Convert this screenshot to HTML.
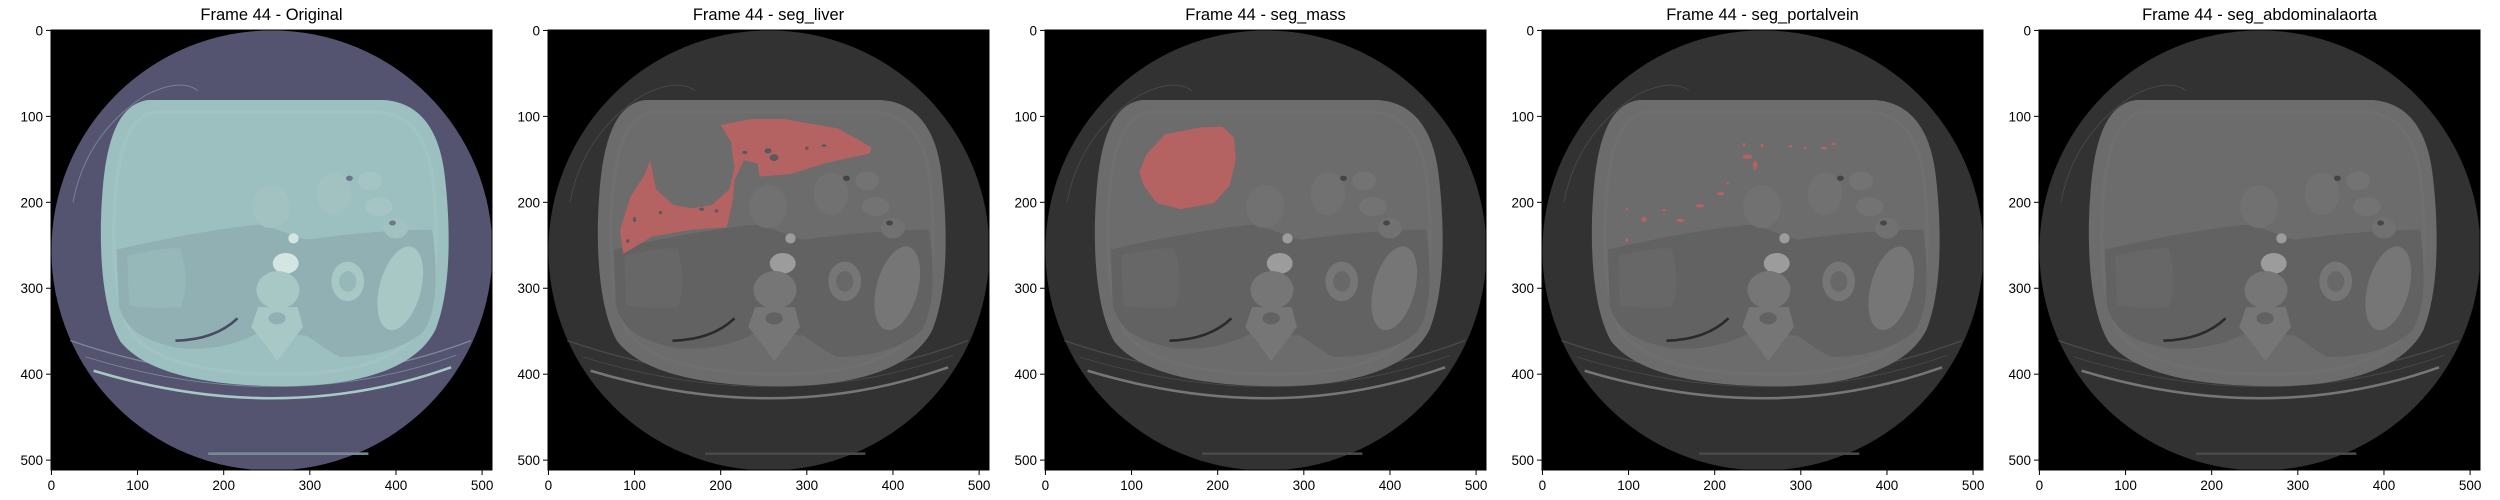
<!DOCTYPE html>
<html><head><meta charset="utf-8">
<style>
html,body{margin:0;padding:0;background:#fff;}
svg{display:block;font-family:"Liberation Sans","DejaVu Sans",sans-serif;}
</style></head>
<body>
<svg id="fig" width="2500" height="500" viewBox="0 0 2500 500" xmlns="http://www.w3.org/2000/svg"></svg>
<script>
// ---- data ----
const panelTitles = ["Frame 44 - Original","Frame 44 - seg_liver","Frame 44 - seg_mass","Frame 44 - seg_portalvein","Frame 44 - seg_abdominalaorta"];
const panelKeys = ["original","seg-liver","seg-mass","seg-portalvein","seg-abdominalaorta"];
const tickValues = [0,100,200,300,400,500];
const tickLabels = ["0","100","200","300","400","500"];
const imageSize = 512;
// segmentation masks in image (pixel) coordinates
const liverMask = [[200,110],[236,103],[274,103],[336,114],[375,136],[373,143],[319,155],[282,167],[245,170],[243,155],[227,151],[216,174],[214,198],[207,229],[166,232],[120,240],[87,260],[83,233],[95,194],[112,167],[118,151],[125,185],[145,203],[166,207],[190,203],[210,185],[216,160],[212,130]];
const liverHoles = [[228,142,3,2],[255,140,4,3],[262,148,5,4],[300,137,2,2],[320,134,3,1.5],[178,208,3,2],[195,210,2,2],[100,220,2,3],[92,245,2,2],[130,212,2,2]];
const massMask = [[139,122],[180,114],[205,113],[218,125],[220,150],[213,180],[195,200],[157,207],[130,200],[115,180],[110,165],[118,145]];
const portalDots = [[238,147,6,2.5],[247,157,2.5,5],[255,134,2,2],[234,133,1.5,2],[288,135,2,1.5],[305,137,1.5,1.5],[327,137,4,1.5],[338,132,3,1.5],[207,190,4,2],[183,204,5,2],[160,221,5,2],[141,209,2,1.5],[118,220,3,3],[98,208,1.5,2],[98,244,2,2],[215,178,1.5,1.5]];

// ---- layout ----
const panelLeft = [51,548,1045,1542,2039];
const imgW = 441, imgH = 440, imgTop = 30;
const NS = "http://www.w3.org/2000/svg";
const fig = document.getElementById("fig");
function el(tag, attrs, parent){
  const e = document.createElementNS(NS, tag);
  for (const k in attrs) e.setAttribute(k, attrs[k]);
  parent.appendChild(e);
  return e;
}
function pts(arr){ return arr.map(p=>p[0]+","+p[1]).join(" "); }

const palettes = [
  {outer:"#545470",body:"#9cbfbf",dark:"#90b0b3",light:"#a8c8c6",bright:"#d4e6e2",gap:"#4a4a62",line:"#7b8a98",bowel:"#a2c2c1",rim:"#a6c7c6"},
  {outer:"#323232",body:"#6c6c6c",dark:"#626262",light:"#767676",bright:"#9c9c9c",gap:"#2a2a2a",line:"#4a4a4a",bowel:"#717171",rim:"#727272"}
];

function drawAnatomy(g, pal){
  el("rect",{x:-0.5,y:-0.5,width:512,height:512,fill:"#000"},g);
  el("circle",{cx:256,cy:256,r:256,fill:pal.outer},g);
  // table curves
  el("path",{d:"M 22,361 Q 266,445 487,361",fill:"none",stroke:pal.line,"stroke-width":1.5},g);
  el("path",{d:"M 49,396 Q 268,462 464,392",fill:"none",stroke:pal.light,"stroke-width":3},g);
  el("path",{d:"M 40,380 Q 268,450 470,378",fill:"none",stroke:pal.line,"stroke-width":1},g);
  el("rect",{x:182,y:491,width:186,height:3,fill:pal.line},g);
  // skin folds
  el("path",{d:"M 25,200 Q 40,120 110,75 Q 150,55 170,70",fill:"none",stroke:pal.line,"stroke-width":1},g);
  // body
  el("path",{d:"M 112,81 L 386,81 C 432,84 452,122 457,172 C 463,225 465,300 446,348 C 420,400 340,414 270,414 C 190,414 112,402 80,362 C 57,322 55,245 59,192 C 63,132 76,86 112,81 Z",fill:pal.body},g);
  el("path",{d:"M 120,95 L 380,95 C 420,98 438,130 443,175 C 448,225 450,295 433,338 C 410,388 335,400 270,400 C 195,400 122,390 93,352 C 72,318 70,245 74,195 C 78,140 90,100 120,95 Z",fill:"none",stroke:pal.rim,"stroke-width":4,opacity:0.6},g);
  // darker inner posterior region
  el("path",{d:"M 76,255 C 140,240 200,230 240,226 C 270,232 290,245 300,243 C 350,236 400,232 442,232 C 450,290 446,330 432,350 C 405,375 360,380 335,380 C 315,370 300,356 295,355 L 240,352 C 210,368 180,372 150,370 C 110,362 85,350 78,318 Z",fill:pal.dark},g);
  el("path",{d:"M 88,262 C 120,255 140,252 150,254 C 160,290 155,310 150,322 C 120,324 100,322 90,320 Z",fill:pal.body,opacity:0.5},g);
  // bowel loops
  el("ellipse",{cx:328,cy:190,rx:20,ry:25,fill:pal.bowel},g);
  el("ellipse",{cx:370,cy:175,rx:14,ry:11,fill:pal.light,opacity:0.7},g);
  el("ellipse",{cx:380,cy:205,rx:16,ry:11,fill:pal.light,opacity:0.7},g);
  el("ellipse",{cx:400,cy:230,rx:14,ry:12,fill:pal.bowel},g);
  el("ellipse",{cx:255,cy:205,rx:22,ry:25,fill:pal.bowel},g);
  el("ellipse",{cx:396,cy:224,rx:4,ry:3,fill:pal.gap,opacity:0.6},g);
  el("ellipse",{cx:346,cy:172,rx:4,ry:3,fill:pal.gap,opacity:0.6},g);
  // aorta and vessels
  el("ellipse",{cx:272,cy:271,rx:15,ry:12,fill:pal.bright},g);
  el("circle",{cx:281,cy:242,r:6,fill:pal.bright},g);
  // spine
  el("ellipse",{cx:263,cy:302,rx:25,ry:22,fill:pal.light},g);
  el("path",{d:"M 240,322 L 286,322 L 292,345 L 275,368 L 262,385 L 250,368 L 232,345 Z",fill:pal.light},g);
  el("ellipse",{cx:262,cy:335,rx:10,ry:7,fill:pal.dark},g);
  // kidney
  el("ellipse",{cx:344,cy:292,rx:19,ry:23,fill:pal.light},g);
  el("ellipse",{cx:344,cy:292,rx:10,ry:12,fill:pal.dark,opacity:0.7},g);
  // spleen
  el("ellipse",{cx:405,cy:300,rx:24,ry:50,fill:pal.light,transform:"rotate(15 405 300)"},g);
  // lung base gap
  el("path",{d:"M 144,361 Q 190,360 216,335",fill:"none",stroke:pal.gap,"stroke-width":3},g);
}

panelTitles.forEach((title, i) => {
  const g = el("g",{},fig);
  
  
  const left = panelLeft[i];
  const sx = imgW/imageSize, sy = imgH/imageSize;
  const xPix = v => left + (v+0.5)*sx;
  const yPix = v => imgTop + (v+0.5)*sy;

  const t = el("text",{x:left+imgW/2,y:20,"text-anchor":"middle","font-size":"16.5px",fill:"#000"},g);
  t.textContent = title;
  
  

  const clipId = "clip"+i;
  const cp = el("clipPath",{id:clipId},g);
  el("rect",{x:left,y:imgTop,width:imgW,height:imgH},cp);
  const ig = el("g",{"clip-path":"url(#"+clipId+")"},g);
  const img = el("g",{transform:"translate("+(left+0.5*sx)+","+(imgTop+0.5*sy)+") scale("+sx+","+sy+")"},ig);
  
  
  drawAnatomy(img, palettes[i===0?0:1]);

  const red = "#b56262";
  if (i === 1) {
    const m = el("polygon",{points:pts(liverMask),fill:red},img);
    
    
    liverHoles.forEach(h => el("ellipse",{cx:h[0],cy:h[1],rx:h[2],ry:h[3],fill:"#5a5a5a"},img));
  }
  if (i === 2) {
    const m = el("polygon",{points:pts(massMask),fill:red,"stroke":red,"stroke-linejoin":"round","stroke-width":2},img);
    
    
  }
  if (i === 3) {
    portalDots.forEach(d => {
      const m = el("ellipse",{cx:d[0],cy:d[1],rx:d[2],ry:d[3],fill:red},img);
      
      
    });
  }

  const fr = el("rect",{x:left,y:imgTop,width:imgW,height:imgH,fill:"none",stroke:"#000","stroke-width":1},g);
  
  

  tickValues.forEach((v, k) => {
    const x = xPix(v);
    el("line",{x1:x,y1:imgTop+imgH,x2:x,y2:imgTop+imgH+5,stroke:"#000","stroke-width":1},g);
    const xl = el("text",{x:x,y:imgTop+imgH+20,"text-anchor":"middle","font-size":"13.5px",fill:"#000"},g);
    xl.textContent = tickLabels[k];
    
    
    const y = yPix(v);
    el("line",{x1:left-5,y1:y,x2:left,y2:y,stroke:"#000","stroke-width":1},g);
    const yl = el("text",{x:left-8,y:y+5,"text-anchor":"end","font-size":"13.5px",fill:"#000"},g);
    yl.textContent = tickLabels[k];
    
    
  });
});
</script>
</body></html>
